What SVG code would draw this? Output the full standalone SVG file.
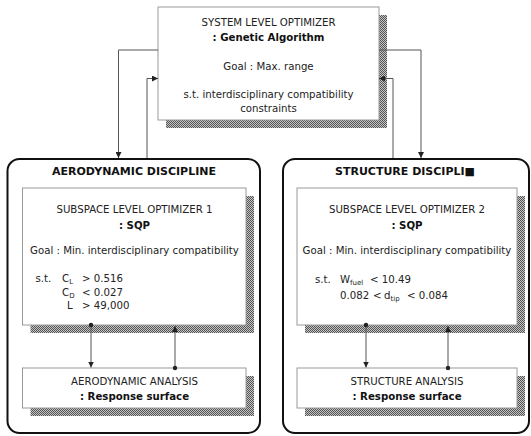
<svg xmlns="http://www.w3.org/2000/svg" width="531" height="436" viewBox="0 0 531 436">
<defs>
<pattern id="hatch" width="2" height="2" patternUnits="userSpaceOnUse">
<rect width="2" height="2" fill="#c4c4c4"/>
<rect width="1" height="1" fill="#555"/>
<rect x="1" y="1" width="1" height="1" fill="#555"/>
</pattern>
<marker id="arrow" markerUnits="userSpaceOnUse" markerWidth="6" markerHeight="6" refX="6" refY="3" orient="auto">
<path d="M0,0 L6,3 L0,6 z" fill="#222"/>
</marker>
<marker id="dot" markerUnits="userSpaceOnUse" markerWidth="6" markerHeight="6" refX="3" refY="3">
<circle cx="3" cy="3" r="2.2" fill="#222"/>
</marker>
</defs>
<style>
.box{fill:#fff;stroke:#9a9a9a;stroke-width:1}
.disc{fill:#fff;stroke:#111;stroke-width:2}
.shadow{fill:url(#hatch)}
.t{font-family:"DejaVu Sans","Liberation Sans",sans-serif;font-size:10.2px;fill:#222}
.c{text-anchor:middle}
.b{font-weight:bold;fill:#111}
.title{font-size:11px;font-weight:bold;fill:#111}
.sub{font-size:7px}
.conn{stroke:#555;stroke-width:1;fill:none}
</style>
<rect width="531" height="436" fill="#fff"/>

<g id="aero-discipline">
<rect class="disc" x="7.5" y="159" width="252.5" height="274" rx="12"/>
<text class="t title c" x="134" y="175">AERODYNAMIC DISCIPLINE</text>
</g>
<g id="struct-discipline">
<rect class="disc" x="283" y="159" width="246" height="274" rx="12"/>
<text class="t title c" x="405" y="175">STRUCTURE DISCIPLI■</text>
</g>

<g id="system-optimizer">
<rect class="shadow" x="166" y="15" width="221" height="113"/>
<rect class="box" x="158" y="7" width="221" height="113"/>
<text class="t c" x="268.5" y="26">SYSTEM LEVEL OPTIMIZER</text>
<text class="t c b" x="268.5" y="40.5">: Genetic Algorithm</text>
<text class="t c" x="268.5" y="70">Goal : Max. range</text>
<text class="t c" x="268.5" y="98">s.t. interdisciplinary compatibility</text>
<text class="t c" x="268.5" y="112">constraints</text>
</g>

<g id="aero-optimizer">
<rect class="shadow" x="30.5" y="196" width="223.5" height="137"/>
<rect class="box" x="22.5" y="188" width="223.5" height="137"/>
<text class="t c" x="134.5" y="213">SUBSPACE LEVEL OPTIMIZER 1</text>
<text class="t c b" x="134.5" y="228.5">: SQP</text>
<text class="t c" x="134.5" y="254">Goal : Min. interdisciplinary compatibility</text>
<text class="t" y="282"><tspan x="35.5">s.t.</tspan><tspan x="62">C</tspan><tspan class="sub" dy="2">L</tspan><tspan x="82" dy="-2">&gt; 0.516</tspan></text>
<text class="t" y="296"><tspan x="62">C</tspan><tspan class="sub" dy="2">D</tspan><tspan x="82" dy="-2">&lt; 0.027</tspan></text>
<text class="t" y="309"><tspan x="67">L</tspan><tspan x="82">&gt; 49,000</tspan></text>
</g>

<g id="aero-analysis">
<rect class="shadow" x="30.5" y="376" width="223.5" height="40"/>
<rect class="box" x="22.5" y="368" width="223.5" height="40"/>
<text class="t c" x="134.5" y="385">AERODYNAMIC ANALYSIS</text>
<text class="t c b" x="134.5" y="400">: Response surface</text>
</g>

<g id="struct-optimizer">
<rect class="shadow" x="305" y="196" width="220" height="137"/>
<rect class="box" x="297" y="188" width="220" height="137"/>
<text class="t c" x="407" y="213">SUBSPACE LEVEL OPTIMIZER 2</text>
<text class="t c b" x="407" y="228.5">: SQP</text>
<text class="t c" x="407" y="254">Goal : Min. interdisciplinary compatibility</text>
<text class="t" y="283"><tspan x="315">s.t.</tspan><tspan x="340">W</tspan><tspan class="sub" dy="2">fuel</tspan><tspan x="370" dy="-2">&lt; 10.49</tspan></text>
<text class="t" y="299"><tspan x="340">0.082</tspan><tspan x="373">&lt;</tspan><tspan x="384">d</tspan><tspan class="sub" dy="2">tip</tspan><tspan x="407" dy="-2">&lt; 0.084</tspan></text>
</g>

<g id="struct-analysis">
<rect class="shadow" x="305" y="376" width="220" height="40"/>
<rect class="box" x="297" y="368" width="220" height="40"/>
<text class="t c" x="407" y="385">STRUCTURE ANALYSIS</text>
<text class="t c b" x="407" y="400">: Response surface</text>
</g>

<g id="connectors">
<path class="conn" d="M158,50 H118.5 V158" marker-end="url(#arrow)"/>
<path class="conn" d="M147,158 V78.5 H158" marker-end="url(#arrow)"/>
<path class="conn" d="M379,50 H421 V158" marker-end="url(#arrow)"/>
<path class="conn" d="M393,158 V78.5 H379" marker-end="url(#arrow)"/>
<path class="conn" d="M91,325 V367.5" marker-start="url(#dot)" marker-end="url(#arrow)"/>
<path class="conn" d="M175,368 V326" marker-start="url(#dot)" marker-end="url(#arrow)"/>
<path class="conn" d="M366,325 V367.5" marker-start="url(#dot)" marker-end="url(#arrow)"/>
<path class="conn" d="M448,368 V326" marker-start="url(#dot)" marker-end="url(#arrow)"/>
</g>
</svg>
